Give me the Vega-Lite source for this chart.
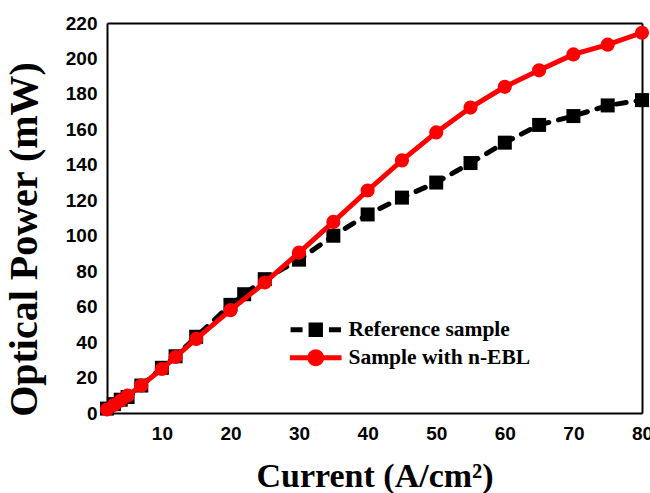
{
  "$schema": "https://vega.github.io/schema/vega-lite/v6.json",
  "width": 535,
  "height": 390,
  "autosize": "none",
  "padding": {"left": 107, "top": 23, "right": 8, "bottom": 80},
  "background": "white",
  "config": {"view": {"stroke": null}, "axis": {"grid": false, "domainColor": "black", "domainWidth": 2, "tickColor": "black", "tickWidth": 2, "labelColor": "black", "titleColor": "black"}},
  "data": {"values": [
    {"x": 2, "y": 2.5, "series": "Reference sample"},
    {"x": 3, "y": 5, "series": "Reference sample"},
    {"x": 4, "y": 7.5, "series": "Reference sample"},
    {"x": 5, "y": 9, "series": "Reference sample"},
    {"x": 7, "y": 15.5, "series": "Reference sample"},
    {"x": 10, "y": 25.5, "series": "Reference sample"},
    {"x": 12, "y": 32, "series": "Reference sample"},
    {"x": 15, "y": 43, "series": "Reference sample"},
    {"x": 20, "y": 61, "series": "Reference sample"},
    {"x": 22, "y": 67, "series": "Reference sample"},
    {"x": 25, "y": 75.5, "series": "Reference sample"},
    {"x": 30, "y": 86.5, "series": "Reference sample"},
    {"x": 35, "y": 100, "series": "Reference sample"},
    {"x": 40, "y": 112, "series": "Reference sample"},
    {"x": 45, "y": 121.5, "series": "Reference sample"},
    {"x": 50, "y": 130, "series": "Reference sample"},
    {"x": 55, "y": 141, "series": "Reference sample"},
    {"x": 60, "y": 152.5, "series": "Reference sample"},
    {"x": 65, "y": 162.5, "series": "Reference sample"},
    {"x": 70, "y": 167.5, "series": "Reference sample"},
    {"x": 75, "y": 173.5, "series": "Reference sample"},
    {"x": 80, "y": 176.5, "series": "Reference sample"},
    {"x": 2, "y": 2, "series": "Sample with n-EBL"},
    {"x": 3, "y": 4.5, "series": "Sample with n-EBL"},
    {"x": 4, "y": 7, "series": "Sample with n-EBL"},
    {"x": 5, "y": 9.8, "series": "Sample with n-EBL"},
    {"x": 7, "y": 15.5, "series": "Sample with n-EBL"},
    {"x": 10, "y": 24.8, "series": "Sample with n-EBL"},
    {"x": 12, "y": 31.6, "series": "Sample with n-EBL"},
    {"x": 15, "y": 41.8, "series": "Sample with n-EBL"},
    {"x": 20, "y": 58, "series": "Sample with n-EBL"},
    {"x": 25, "y": 73.6, "series": "Sample with n-EBL"},
    {"x": 30, "y": 90.5, "series": "Sample with n-EBL"},
    {"x": 35, "y": 107.8, "series": "Sample with n-EBL"},
    {"x": 40, "y": 125.5, "series": "Sample with n-EBL"},
    {"x": 45, "y": 142.5, "series": "Sample with n-EBL"},
    {"x": 50, "y": 158.3, "series": "Sample with n-EBL"},
    {"x": 55, "y": 172.3, "series": "Sample with n-EBL"},
    {"x": 60, "y": 184, "series": "Sample with n-EBL"},
    {"x": 65, "y": 193.3, "series": "Sample with n-EBL"},
    {"x": 70, "y": 202.3, "series": "Sample with n-EBL"},
    {"x": 75, "y": 207.8, "series": "Sample with n-EBL"},
    {"x": 80, "y": 214.5, "series": "Sample with n-EBL"}
  ]},
  "resolve": {"axis": {"x": "independent", "y": "independent"}},
  "layer": [
    {
      "transform": [{"filter": "datum.series === 'Reference sample'"}],
      "mark": {"type": "line", "strokeWidth": 5, "strokeDash": [10, 10], "strokeCap": "round"},
      "encoding": {
        "x": {"field": "x", "type": "quantitative", "scale": {"domain": [2, 80], "nice": false, "zero": false},
          "axis": {"orient": "bottom", "title": "Current (A/cm²)", "values": [4,6,8,10,12,14,16,18,20,22,24,26,28,30,32,34,36,38,40,42,44,46,48,50,52,54,56,58,60,62,64,66,68,70,72,74,76,78,80],
            "labelExpr": "datum.value % 10 === 0 ? datum.label : ''",
            "tickSize": 0,
            "encode": {"ticks": {"update": {"y2": {"signal": "datum.value % 10 === 0 ? -9 : -5"}}}},
            "labelPadding": 11, "labelFont": "Liberation Sans", "labelFontWeight": "bold", "labelFontSize": 19,
            "titleFont": "Liberation Serif", "titleFontWeight": "bold", "titleFontSize": 34, "titlePadding": 16, "labelFlush": false, "labelOverlap": false}},
        "y": {"field": "y", "type": "quantitative", "scale": {"domain": [0, 220], "nice": false},
          "axis": {"orient": "left", "title": "Optical Power (mW)", "values": [0,4,8,12,16,20,24,28,32,36,40,44,48,52,56,60,64,68,72,76,80,84,88,92,96,100,104,108,112,116,120,124,128,132,136,140,144,148,152,156,160,164,168,172,176,180,184,188,192,196,200,204,208,212,216,220],
            "labelExpr": "datum.value % 20 === 0 ? datum.label : ''",
            "tickSize": 0,
            "encode": {"ticks": {"update": {"x2": {"signal": "datum.value % 20 === 0 ? 9 : 5"}}}},
            "labelPadding": 10, "labelFont": "Liberation Sans", "labelFontWeight": "bold", "labelFontSize": 19,
            "titleFont": "Liberation Serif", "titleFontWeight": "bold", "titleFontSize": 40, "titlePadding": 21, "titleY": 216, "labelFlush": false, "labelOverlap": false}},
        "color": {"field": "series", "type": "nominal", "scale": {"domain": ["Reference sample", "Sample with n-EBL"], "range": ["black", "red"]},
          "legend": {"orient": "none", "legendX": 198, "legendY": 296, "title": null, "padding": 0, "symbolSize": 144, "labelOffset": 22, "rowPadding": 5,
            "labelFont": "Liberation Serif", "labelFontWeight": "bold", "labelFontSize": 21.5, "labelColor": "black", "labelLimit": 400,
            "encode": {"symbols": {"update": {
              "shape": {"signal": "datum.value === 'Reference sample' ? 'M-4.2,-0.4H-2.2V0.4H-4.2Z M-1.2,-1.2H1.2V1.2H-1.2Z M2.2,-0.4H4.2V0.4H2.2Z' : 'M-4.3,-0.4H4.3V0.4H-4.3Z M-1.4,0A1.4,1.4 0 1,1 1.4,0A1.4,1.4 0 1,1 -1.4,0Z'"},
              "fill": {"signal": "datum.value === 'Reference sample' ? 'black' : 'red'"},
              "stroke": {"value": "transparent"}, "strokeWidth": {"value": 0}, "opacity": {"value": 1}, "fillOpacity": {"value": 1}}}}}}
      }
    },
    {
      "transform": [{"filter": "datum.series === 'Reference sample'"}],
      "mark": {"type": "point", "shape": "square", "filled": true, "size": 196, "opacity": 1},
      "encoding": {
        "x": {"field": "x", "type": "quantitative",
          "axis": {"orient": "top", "title": null, "labels": false, "values": [4,6,8,10,12,14,16,18,20,22,24,26,28,30,32,34,36,38,40,42,44,46,48,50,52,54,56,58,60,62,64,66,68,70,72,74,76,78,80],
            "tickSize": 0,
            "encode": {"ticks": {"update": {"y2": {"signal": "datum.value % 10 === 0 ? 9 : 5"}}}}}},
        "y": {"field": "y", "type": "quantitative",
          "axis": {"orient": "right", "title": null, "labels": false, "values": [0,4,8,12,16,20,24,28,32,36,40,44,48,52,56,60,64,68,72,76,80,84,88,92,96,100,104,108,112,116,120,124,128,132,136,140,144,148,152,156,160,164,168,172,176,180,184,188,192,196,200,204,208,212,216,220],
            "tickSize": 0,
            "encode": {"ticks": {"update": {"x2": {"signal": "datum.value % 20 === 0 ? -9 : -5"}}}}}},
        "color": {"field": "series", "type": "nominal", "legend": null}
      }
    },
    {
      "transform": [{"filter": "datum.series === 'Sample with n-EBL'"}],
      "mark": {"type": "line", "strokeWidth": 5},
      "encoding": {
        "x": {"field": "x", "type": "quantitative", "axis": null},
        "y": {"field": "y", "type": "quantitative", "axis": null},
        "color": {"field": "series", "type": "nominal", "legend": null}
      }
    },
    {
      "transform": [{"filter": "datum.series === 'Sample with n-EBL'"}],
      "mark": {"type": "point", "shape": "circle", "filled": true, "size": 200, "opacity": 1},
      "encoding": {
        "x": {"field": "x", "type": "quantitative", "axis": null},
        "y": {"field": "y", "type": "quantitative", "axis": null},
        "color": {"field": "series", "type": "nominal", "legend": null}
      }
    }
  ]
}
